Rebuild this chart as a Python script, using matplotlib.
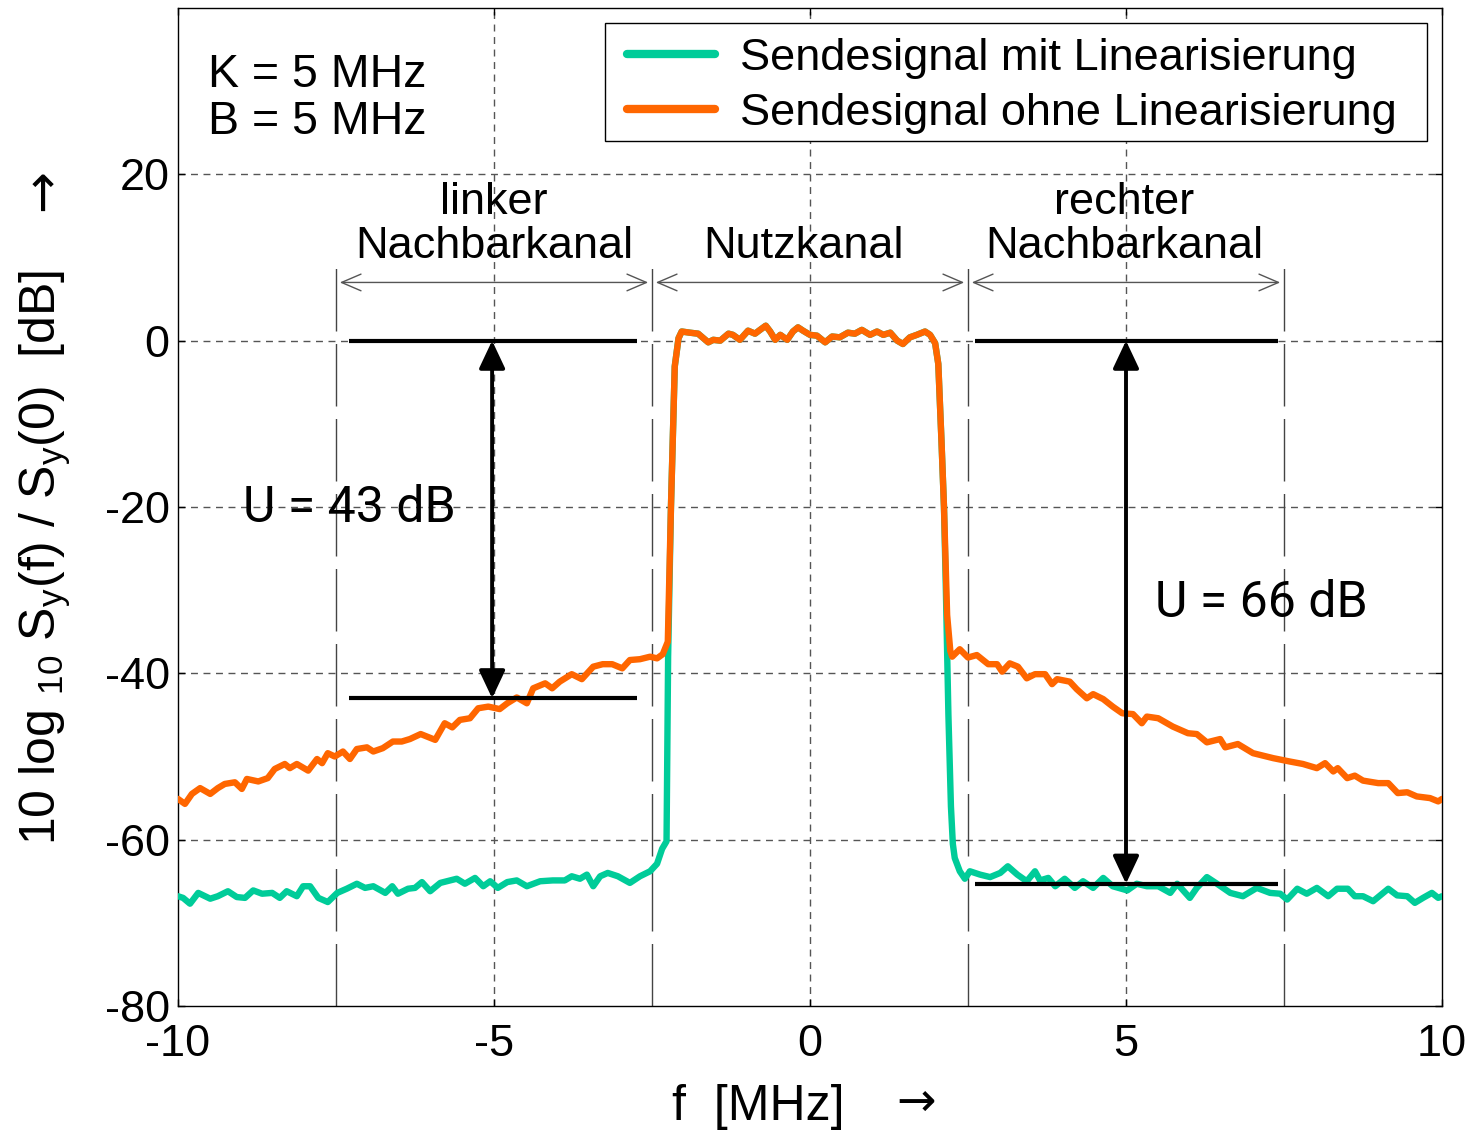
import matplotlib
matplotlib.use("Agg")
import matplotlib.pyplot as plt
from matplotlib.patches import Rectangle
import numpy as np

plt.rcParams['font.family'] = ['Liberation Sans', 'DejaVu Sans']
plt.rcParams['mathtext.fontset'] = 'custom'
plt.rcParams['mathtext.rm'] = 'Liberation Sans'
plt.rcParams['mathtext.it'] = 'Liberation Sans:italic'
plt.rcParams['mathtext.default'] = 'regular'
plt.rcParams['axes.unicode_minus'] = False

# ---------------- data ----------------
# common useful-channel part (both signals coincide)
band_x = [-2.20, -2.14, -2.08, -2.03, -1.90, -1.77, -1.61, -1.53, -1.42, -1.29, -1.22, -1.11,
          -0.98, -0.87, -0.79, -0.70, -0.63, -0.55, -0.47, -0.36, -0.27, -0.19, -0.11, 0.0,
          0.11, 0.24, 0.35, 0.47, 0.60, 0.71, 0.82, 0.95, 1.06, 1.16, 1.27, 1.38, 1.47,
          1.58, 1.69, 1.82, 1.90, 1.98, 2.03, 2.08, 2.12]
band_y = [-20, -3.1, 0.3, 1.1, 0.96, 0.84, -0.2, 0.1, 0.0, 0.84, 0.7, 0.1,
          1.2, 0.84, 1.3, 1.8, 1.1, 0.1, 0.7, 0.1, 1.1, 1.6, 1.2, 0.7,
          0.6, -0.2, 0.5, 0.4, 0.96, 0.84, 1.3, 0.7, 1.1, 0.7, 0.96, 0.0, -0.4,
          0.4, 0.7, 1.1, 0.7, -0.3, -2.8, -12, -20]

# signal without linearisation (orange)
ohne_left_x = [-10, -9.89, -9.78, -9.65, -9.49, -9.37, -9.26, -9.10, -8.99, -8.91, -8.73, -8.58,
               -8.47, -8.31, -8.23, -8.12, -7.94, -7.80, -7.72, -7.63, -7.52, -7.39, -7.28,
               -7.17, -7.01, -6.91, -6.76, -6.60, -6.46, -6.33, -6.16, -6.06, -5.93, -5.78,
               -5.66, -5.54, -5.38, -5.25, -5.09, -4.91, -4.79, -4.64, -4.48, -4.38, -4.19,
               -4.08, -3.96, -3.77, -3.61, -3.43, -3.28, -3.13, -2.97, -2.85, -2.69, -2.53,
               -2.42, -2.33, -2.25]
ohne_left_y = [-55.1, -55.7, -54.5, -53.8, -54.5, -53.8, -53.3, -53.1, -53.9, -52.7, -53.0, -52.6,
               -51.5, -50.9, -51.4, -50.9, -51.7, -50.3, -50.8, -49.6, -50.0, -49.4, -50.3,
               -49.1, -48.9, -49.4, -49.0, -48.2, -48.2, -47.9, -47.3, -47.6, -48.0, -46.0,
               -46.5, -45.6, -45.4, -44.2, -44.0, -44.3, -43.6, -42.9, -43.6, -41.8, -41.2,
               -41.8, -41.0, -40.1, -40.7, -39.2, -38.9, -38.9, -39.4, -38.4, -38.3, -38.0,
               -38.2, -37.7, -36.2]
ohne_right_x = [2.17, 2.22, 2.25, 2.37, 2.50, 2.64, 2.82, 2.96, 3.04, 3.16, 3.29, 3.43, 3.56,
                3.72, 3.83, 3.91, 4.11, 4.22, 4.38, 4.48, 4.64, 4.79, 4.94, 5.11, 5.25, 5.33,
                5.51, 5.74, 5.98, 6.12, 6.28, 6.49, 6.57, 6.77, 7.01, 7.33, 7.59, 7.80, 8.02,
                8.15, 8.28, 8.35, 8.50, 8.62, 8.75, 8.99, 9.15, 9.30, 9.45, 9.60, 9.81, 9.94, 10.0]
ohne_right_y = [-33, -37.3, -38.0, -37.1, -38.1, -37.8, -38.9, -38.9, -39.8, -38.8, -39.2, -40.6,
                -40.1, -40.1, -41.3, -40.7, -41.0, -41.9, -43.0, -42.5, -43.1, -44.0, -44.8,
                -44.9, -46.0, -45.2, -45.4, -46.4, -47.2, -47.3, -48.3, -47.9, -48.9, -48.5,
                -49.6, -50.2, -50.6, -50.9, -51.4, -50.8, -51.8, -51.4, -52.6, -52.3, -52.9,
                -53.2, -53.2, -54.4, -54.3, -54.8, -55.0, -55.4, -55.1]

# signal with linearisation (green)
mit_left_x = [-10, -9.92, -9.81, -9.68, -9.49, -9.37, -9.21, -9.07, -8.94, -8.81, -8.67, -8.51,
              -8.39, -8.28, -8.12, -8.02, -7.91, -7.78, -7.63, -7.48, -7.33, -7.17, -7.04,
              -6.91, -6.72, -6.61, -6.52, -6.36, -6.25, -6.14, -6.01, -5.85, -5.59, -5.46,
              -5.30, -5.17, -5.06, -4.94, -4.79, -4.64, -4.48, -4.27, -4.07, -3.88, -3.77,
              -3.64, -3.53, -3.43, -3.32, -3.20, -3.04, -2.85, -2.69, -2.53, -2.42, -2.34,
              -2.27, -2.245]
mit_left_y = [-66.8, -67.0, -67.7, -66.4, -67.1, -66.8, -66.2, -66.9, -67.0, -66.1, -66.5, -66.4,
              -67.0, -66.2, -66.8, -65.6, -65.6, -67.0, -67.5, -66.4, -65.9, -65.3, -65.8,
              -65.6, -66.4, -65.6, -66.5, -65.9, -65.8, -65.1, -66.2, -65.2, -64.7, -65.3,
              -64.6, -65.6, -65.0, -65.8, -65.1, -64.9, -65.6, -65.0, -64.9, -64.9, -64.4,
              -64.7, -64.2, -65.6, -64.4, -64.0, -64.4, -65.2, -64.4, -63.8, -62.9, -61.1,
              -60.2, -38.0]
mit_right_x = [2.15, 2.19, 2.23, 2.26, 2.29, 2.37, 2.45, 2.53, 2.69, 2.85, 3.01, 3.13, 3.28,
               3.43, 3.56, 3.64, 3.77, 3.88, 4.03, 4.19, 4.32, 4.48, 4.64, 4.79, 5.02, 5.17,
               5.33, 5.51, 5.70, 5.81, 6.01, 6.12, 6.28, 6.44, 6.65, 6.85, 7.07, 7.28, 7.44,
               7.55, 7.71, 7.86, 8.02, 8.20, 8.34, 8.51, 8.62, 8.75, 8.91, 9.15, 9.29, 9.45,
               9.57, 9.70, 9.84, 9.94, 10.0]
mit_right_y = [-30, -45, -56, -60.5, -62.2, -63.8, -64.7, -63.8, -64.2, -64.5, -64.0, -63.2, -64.2,
               -65.0, -63.8, -64.9, -64.6, -65.6, -64.7, -65.8, -65.0, -65.8, -64.6, -65.6,
               -66.1, -65.3, -65.6, -65.6, -66.4, -65.3, -67.0, -65.8, -64.5, -65.3, -66.4,
               -66.8, -65.8, -66.4, -66.5, -67.2, -65.9, -66.5, -65.8, -66.8, -65.9, -65.9,
               -66.8, -66.8, -67.4, -65.9, -66.7, -66.8, -67.6, -67.0, -66.4, -67.0, -66.8]

series_labels = ["Sendesignal mit Linearisierung", "Sendesignal ohne Linearisierung"]
channel_edges = [-7.5, -2.5, 2.5, 7.5]
channel_names = ["linker\nNachbarkanal", "Nutzkanal", "rechter\nNachbarkanal"]
U_left, U_right = 43, 66
xticks = [-10, -5, 0, 5, 10]
yticks = [-80, -60, -40, -20, 0, 20]

# ---------------- figure ----------------
GREEN = '#00CC99'
ORANGE = '#FF6600'
FS = 32.5

W, H = 1484, 1132
AX_L, AX_R, AX_T, AX_B = 178, 1442, 8, 1006
fig = plt.figure(figsize=(W / 100, H / 100), dpi=100)
ax = fig.add_axes([AX_L/W, 1-AX_B/H, (AX_R-AX_L)/W, (AX_B-AX_T)/H])


def ax_frac(px, py):
    return (px - AX_L) / (AX_R - AX_L), 1 - (py - AX_T) / (AX_B - AX_T)


mit_x = mit_left_x + band_x + mit_right_x
mit_y = mit_left_y + band_y + mit_right_y
ohne_x = ohne_left_x + band_x + ohne_right_x
ohne_y = ohne_left_y + band_y + ohne_right_y

ax.plot(mit_x, mit_y, color=GREEN, lw=4.6, label=series_labels[0], zorder=3,
        solid_joinstyle='round', solid_capstyle='round')
ax.plot(ohne_x, ohne_y, color=ORANGE, lw=4.6, label=series_labels[1], zorder=4,
        solid_joinstyle='round', solid_capstyle='round')

ax.set_xlim(-10, 10)
ax.set_ylim(-80, 40)
ax.set_xticks(xticks)
ax.set_yticks(yticks)
ax.tick_params(direction='in', length=5, width=1, labelsize=FS, pad=6,
               top=True, right=True)
ax.tick_params(axis='x', pad=13)
for s in ax.spines.values():
    s.set_linewidth(1.0)
    s.set_color('black')

# grid
for xv in [-5, 0, 5]:
    ax.axvline(xv, color='#555555', lw=1, dashes=(5, 4), zorder=1)
for yv in [-60, -40, -20, 0, 20]:
    ax.axhline(yv, color='#555555', lw=1, dashes=(5, 4), zorder=1)

# channel boundary lines
for xe in channel_edges:
    ax.plot([xe, xe], [-80, 9.3], color='#444444', lw=1, dashes=(45, 9), zorder=1)

# channel double arrows
gap = 0.06
for a, b in zip(channel_edges[:-1], channel_edges[1:]):
    ax.annotate('', xy=(b - gap, 7), xytext=(a + gap, 7),
                arrowprops=dict(arrowstyle='<->,head_length=1.4,head_width=0.6',
                                color='#555555', lw=1, shrinkA=0, shrinkB=0))

# channel names
ax.text(-5, 9.9, channel_names[0], ha='center', va='baseline', fontsize=FS,
        linespacing=1.1)
ax.text(-0.1, 9.9, channel_names[1], ha='center', va='baseline', fontsize=FS)
ax.text(4.97, 9.9, channel_names[2], ha='center', va='baseline', fontsize=FS,
        linespacing=1.1)

# K / B info
ax.text(-9.52, 24.9, "K = 5 MHz\nB = 5 MHz", ha='left', va='baseline', fontsize=33.5,
        linespacing=1.08)

# level annotations
ax.hlines([0, -U_left], -7.29, -2.74, colors='black', lw=3, zorder=6)
ax.hlines([0, -65.3], 2.61, 7.41, colors='black', lw=3, zorder=6)
for xa, ylow in [(-5.03, -U_left), (5.0, -65.3)]:
    ax.annotate('', xy=(xa, ylow), xytext=(xa, 0),
                arrowprops=dict(arrowstyle='<|-|>,head_length=1.7,head_width=0.8',
                                color='black', lw=2.8, shrinkA=0, shrinkB=0),
                zorder=6)
ax.text(-8.97, -20.1, f"U = {U_left} dB", ha='left', va='center', fontsize=36,
        family='Roboto')
ax.text(5.46, -31.5, f"U = {U_right} dB", ha='left', va='center', fontsize=36,
        family='Roboto')

# legend: frame drawn as a rectangle, entries placed inside it
x0, y0 = ax_frac(605, 141)
x1, y1 = ax_frac(1427, 23)
ax.add_patch(Rectangle((x0, y0), x1 - x0, y1 - y0, transform=ax.transAxes,
                       facecolor='white', edgecolor='black', lw=1.0, zorder=7))
lx, ly = ax_frac(627, 38)
leg = ax.legend(loc='upper left', bbox_to_anchor=(lx, ly), borderaxespad=0,
                fontsize=FS, handlelength=1.95, handletextpad=0.55,
                frameon=False, borderpad=0, labelspacing=0.3)
leg.set_zorder(8)
for line in leg.get_lines():
    line.set_linewidth(6)
    line.set_solid_capstyle('round')

# axis labels (arrows drawn as separate text with a font that has a large arrow)
fig.text(758/W, 1-1107/H, "f  [MHz]", fontsize=36, ha='center', va='center')
fig.text(916/W, 1-1103/H, "→", fontsize=34, ha='center', va='center',
         family='DejaVu Sans')
fig.text(45/W, 1-557/H, "10 log $_{10}$ S$_y$(f) / S$_y$(0)  [dB]", fontsize=36,
         rotation=90, ha='center', va='center')
fig.text(43/W, 1-190/H, "→", fontsize=36, rotation=90, ha='center', va='center',
         family='DejaVu Sans')

fig.savefig("out.png", dpi=100)
